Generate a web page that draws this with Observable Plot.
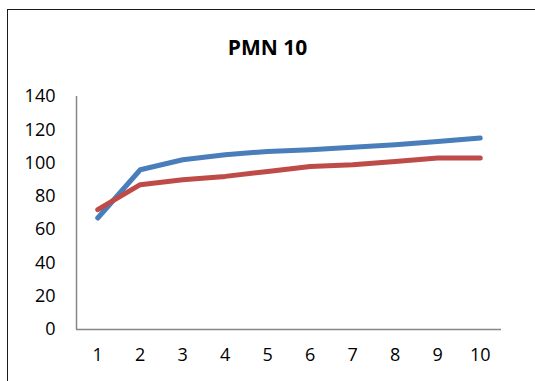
<!DOCTYPE html>
<html>
<head>
<meta charset="utf-8">
<script src="https://cdn.jsdelivr.net/npm/d3@7"></script>
<script src="https://cdn.jsdelivr.net/npm/@observablehq/plot@0.6"></script>
<style>
  html, body { margin: 0; padding: 0; background: #fff; overflow: hidden; }
  #wrap { position: relative; width: 535px; height: 381px; overflow: hidden; background: #fff; }
  #border { position: absolute; left: 7px; top: 9px; width: 600px; height: 420px; border-left: 1.5px solid #1a1a1a; border-top: 1.5px solid #1a1a1a; box-sizing: border-box; }
  #title { position: absolute; left: 0; width: 535px; top: 33px; text-align: center; font: bold 21px "Open Sans", sans-serif; color: #000; }
  #chart { position: absolute; left: 0; top: 0; }
</style>
</head>
<body>
<div id="wrap">
  <div id="border"></div>
  <div id="chart"></div>
  <div id="title">PMN 10</div>
</div>
<script>
// Samples 1–10
const samples = [1, 2, 3, 4, 5, 6, 7, 8, 9, 10];
// Two series measured at each sample
const seriesBlue = [67, 96, 102, 105, 107, 108, 109.5, 111, 113, 115];
const seriesRed = [72, 87, 90, 92, 95, 98, 99, 101, 103, 103];
const yTicks = [0, 20, 40, 60, 80, 100, 120, 140];

const blue = samples.map((s, i) => ({s, v: seriesBlue[i]}));
const red = samples.map((s, i) => ({s, v: seriesRed[i]}));

const chart = Plot.plot({
  width: 535,
  height: 381,
  marginLeft: 76,
  marginRight: 34,
  marginTop: 96,
  marginBottom: 52,
  style: {fontFamily: "'Open Sans', sans-serif", fontSize: "18px", color: "#000", background: "transparent"},
  x: {domain: [0.5, 10.5], ticks: samples, tickSize: 0, tickPadding: 19, label: null, tickFormat: d => String(d)},
  y: {domain: [0, 140], ticks: yTicks, tickSize: 0, tickPadding: 21, label: null},
  marks: [
    Plot.ruleY([0], {stroke: "#868686", strokeWidth: 1.5}),
    Plot.ruleX([0.5], {y1: 0, y2: 140, stroke: "#868686", strokeWidth: 1.5}),
    Plot.line(blue, {x: "s", y: "v", stroke: "#4A7EBB", strokeWidth: 5, strokeLinecap: "round", strokeLinejoin: "round"}),
    Plot.line(red, {x: "s", y: "v", stroke: "#BE4B48", strokeWidth: 5, strokeLinecap: "round", strokeLinejoin: "round"})
  ]
});
document.getElementById("chart").appendChild(chart);
</script>
</body>
</html>
